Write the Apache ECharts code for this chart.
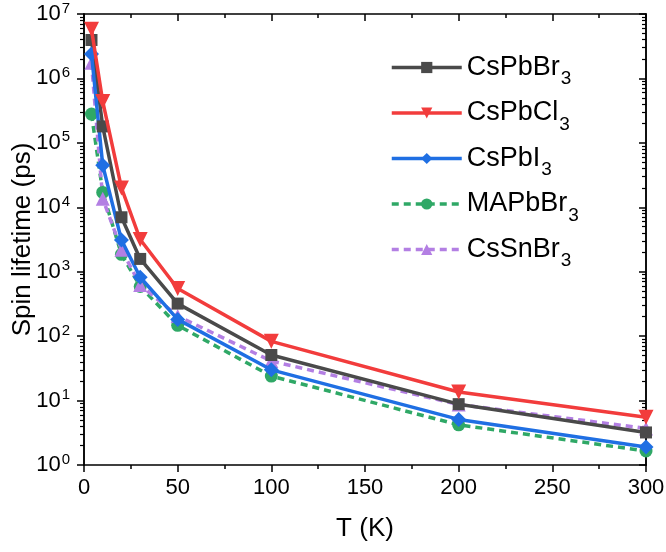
<!DOCTYPE html>
<html>
<head>
<meta charset="utf-8">
<script src="https://cdn.jsdelivr.net/npm/echarts@6/dist/echarts.min.js"></script>
<style>
html,body{margin:0;padding:0;background:#fff;}
#chart{width:666px;height:552px;}
</style>
</head>
<body>
<div id="chart"></div>
<script>
// ---- data ----
var temperatures = [4, 10, 20, 30, 50, 100, 200, 300];
var csPbBr3 = [3.95e6, 1.8e5, 7.0e3, 1.58e3, 320, 51, 8.8, 3.2];
var csPbCl3 = [5.8e6, 4.4e5, 2.0e4, 3.16e3, 550, 83, 13.6, 5.5];
var csPbI3  = [2.4e6, 4.5e4, 3.1e3, 820, 182, 30, 5.1, 1.9];
var maPbBr3 = [2.8e5, 1.7e4, 1.86e3, 590, 147, 24, 4.2, 1.65];
var csSnBr3 = [1.75e6, 1.36e4, 2.2e3, 620, 205, 41, 8.7, 3.7];
var seriesNames = ['CsPbBr3', 'CsPbCl3', 'CsPbI3', 'MAPbBr3', 'CsSnBr3'];
var yMajorTicks = [1, 10, 100, 1000, 10000, 100000, 1000000, 10000000];
var yTickExponents = ['0', '1', '2', '3', '4', '5', '6', '7'];
var xTickLabels = ['0', '50', '100', '150', '200', '250', '300'];

var yMinorTicks = [];
for (var d = 0; d < 7; d++) {
  for (var m = 2; m <= 9; m++) yMinorTicks.push(m * Math.pow(10, d));
}

function pairs(vals) {
  return temperatures.map(function (t, i) { return [t, vals[i]]; });
}

var chart = echarts.init(document.getElementById('chart'), null, {renderer: 'canvas'});
var FONT = 'Liberation Sans, Arial, sans-serif';
var grid = {left: 84, right: 20, top: 14, bottom: 87, containLabel: false, outerBoundsMode: 'none'};

function logAxis(opts) {
  return Object.assign({
    type: 'log', logBase: 10, min: 1, max: 1e7,
    axisLine: {show: true, lineStyle: {color: '#000', width: 1.5}},
    splitLine: {show: false},
    axisLabel: {show: false},
    axisTick: {show: true}
  }, opts);
}

var LW = 3.5;
var option = {
  backgroundColor: '#fff',
  animation: false,
  grid: grid,
  legend: {
    orient: 'vertical',
    left: 385,
    top: 49,
    itemWidth: 70,
    itemHeight: 14,
    itemGap: 11,
    data: seriesNames,
    lineStyle: {width: LW},
    formatter: function (name) {
      var base = name.slice(0, -1), sub = name.slice(-1);
      return '{m|' + base + '}{s|' + sub + '}';
    },
    textStyle: {
      rich: {
        m: {fontSize: 27, fontFamily: FONT, color: '#000', lineHeight: 42, padding: [0, 0, 0, 0]},
        s: {fontSize: 19, fontFamily: FONT, color: '#000', lineHeight: 18, verticalAlign: 'bottom', padding: [0, 0, 0, 1]}
      }
    }
  },
  xAxis: [
    {
      type: 'value', min: 0, max: 300, interval: 50, position: 'bottom',
      name: 'T (K)', nameLocation: 'middle', nameGap: 51, nameMoveOverlap: false,
      nameTextStyle: {fontSize: 26, fontFamily: FONT, color: '#000'},
      axisLine: {show: true, onZero: false, lineStyle: {color: '#000', width: 1.5}},
      axisTick: {show: true, inside: false, length: 7, lineStyle: {color: '#000', width: 1.5}},
      minorTick: {show: true, splitNumber: 2, length: 4, lineStyle: {color: '#000', width: 1.5}},
      splitLine: {show: false},
      axisLabel: {
        margin: 12, fontSize: 22, fontFamily: FONT, color: '#000',
        formatter: function (v) { return xTickLabels[Math.round(v / 50)]; }
      }
    },
    {
      type: 'value', min: 0, max: 300, interval: 50, position: 'top',
      axisLine: {show: true, onZero: false, lineStyle: {color: '#000', width: 1.5}},
      axisTick: {show: true, inside: true, length: 7, lineStyle: {color: '#000', width: 1.5}},
      minorTick: {show: true, splitNumber: 2, length: 4, lineStyle: {color: '#000', width: 1.5}},
      splitLine: {show: false},
      axisLabel: {show: false}
    }
  ],
  yAxis: [
    logAxis({
      position: 'left',
      name: 'Spin lifetime (ps)', nameLocation: 'middle', nameGap: 48, nameMoveOverlap: false,
      nameTextStyle: {fontSize: 26, fontFamily: FONT, color: '#000'},
      axisTick: {show: true, inside: false, length: 7, customValues: yMajorTicks, lineStyle: {color: '#000', width: 1.5}},
      axisLabel: {
        show: true, margin: 14, customValues: yMajorTicks,
        formatter: function (v) {
          var e = Math.round(Math.log10(v));
          return '{b|10}{p|' + yTickExponents[e] + '}';
        },
        rich: {
          b: {fontSize: 22, fontFamily: FONT, color: '#000', lineHeight: 26},
          p: {fontSize: 15, fontFamily: FONT, color: '#000', lineHeight: 14, verticalAlign: 'top', padding: [0, 0, 0, 1]}
        }
      }
    }),
    logAxis({
      position: 'left',
      axisTick: {show: true, inside: false, length: 4, customValues: yMinorTicks, lineStyle: {color: '#000', width: 1.2}}
    }),
    logAxis({
      position: 'right',
      axisTick: {show: true, inside: true, length: 7, customValues: yMajorTicks, lineStyle: {color: '#000', width: 1.5}}
    }),
    logAxis({
      position: 'right',
      axisTick: {show: true, inside: true, length: 4, customValues: yMinorTicks, lineStyle: {color: '#000', width: 1.2}}
    })
  ],
  series: [
    {
      name: 'CsPbBr3', type: 'line', data: pairs(csPbBr3),
      symbol: 'rect', symbolSize: 12, color: '#4a4a4a',
      lineStyle: {width: LW, color: '#4a4a4a'}, itemStyle: {color: '#4a4a4a'}, z: 3
    },
    {
      name: 'CsPbCl3', type: 'line', data: pairs(csPbCl3),
      symbol: 'triangle', symbolRotate: 180, symbolSize: 15, color: '#f23c3c',
      lineStyle: {width: LW, color: '#f23c3c'}, itemStyle: {color: '#f23c3c'}, z: 4
    },
    {
      name: 'CsPbI3', type: 'line', data: pairs(csPbI3),
      symbol: 'diamond', symbolSize: 15, color: '#1f6fe3',
      lineStyle: {width: LW, color: '#1f6fe3'}, itemStyle: {color: '#1f6fe3'}, z: 3
    },
    {
      name: 'MAPbBr3', type: 'line', data: pairs(maPbBr3),
      symbol: 'circle', symbolSize: 13, color: '#2fa866',
      lineStyle: {width: LW, color: '#2fa866', type: [7, 5]}, itemStyle: {color: '#2fa866'}, z: 2
    },
    {
      name: 'CsSnBr3', type: 'line', data: pairs(csSnBr3),
      symbol: 'triangle', symbolSize: 14, color: '#b37fe3',
      lineStyle: {width: LW, color: '#b37fe3', type: [7, 5]}, itemStyle: {color: '#b37fe3'}, z: 2
    }
  ]
};
chart.setOption(option);
</script>
</body>
</html>
